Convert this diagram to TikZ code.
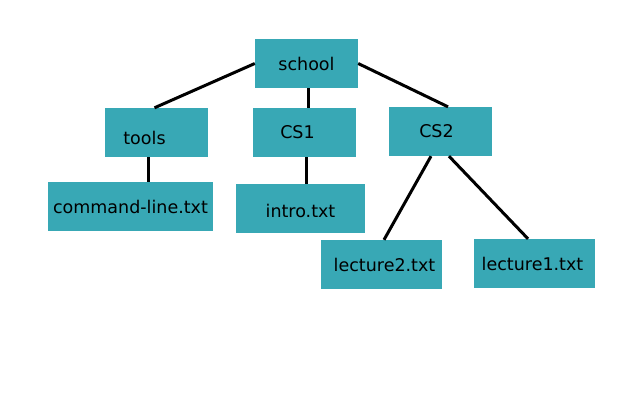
\documentclass[tikz,border=0pt]{standalone}
\usepackage{fontspec}
\setmainfont{DejaVu Sans}
\definecolor{boxteal}{RGB}{56,168,181}
\tikzset{
  dirbox/.style={fill=boxteal, draw=none, inner sep=0pt, minimum width=103pt, minimum height=49pt},
  link/.style={line width=3pt, black}
}

\begin{document}
\begin{tikzpicture}[x=1pt, y=-1pt, every node/.style={font=\fontsize{17.5}{20}\selectfont}]
		\useasboundingbox (0,0) rectangle (640,400);
		
		% directories
		\node[dirbox] (school) at (306.5,63.5) {school};
		\node[dirbox, label={[xshift=-12pt, yshift=-5pt]center:tools}] (tools) at (156.5,132.5) {};
		\node[dirbox, label={[xshift=-7pt]center:CS1}] (cs1) at (304.5,132.5) {};
		\node[dirbox, label={[xshift=-4pt]center:CS2}] (cs2) at (440.5,131.5) {};
		
		% files
		\node[dirbox, minimum width=165pt] (cmdline) at (130.5,206.5) {command-line.txt};
		\node[dirbox, minimum width=129pt, label={[yshift=-2pt]center:intro.txt}] (intro) at (300.5,208.5) {};
		\node[dirbox, minimum width=121pt, label={[xshift=3pt]center:lecture2.txt}] (lecture2) at (381.5,264.5) {};
		\node[dirbox, minimum width=121pt, label={[xshift=-2pt]center:lecture1.txt}] (lecture1) at (534.5,263.5) {};
		
		% links
		\draw[link] (school.west) -- ([xshift=-2pt]tools.north);
		\draw[link] ([xshift=1.5pt]school.south) -- ([xshift=1.5pt]school.south |- cs1.north);
		\draw[link] (school.east) -- ([xshift=7.5pt]cs2.north);
		\draw[link] ([xshift=-8.5pt]tools.south) -- ([xshift=-8.5pt]tools.south |- cmdline.north);
		\draw[link] ([xshift=1.5pt]cs1.south) -- ([xshift=1.5pt]cs1.south |- intro.north);
		\draw[link] ([xshift=-9.5pt]cs2.south) -- ([xshift=2.5pt]lecture2.north);
		\draw[link] ([xshift=8.5pt]cs2.south) -- ([xshift=-6.5pt]lecture1.north);
	\end{tikzpicture}
\end{document}
